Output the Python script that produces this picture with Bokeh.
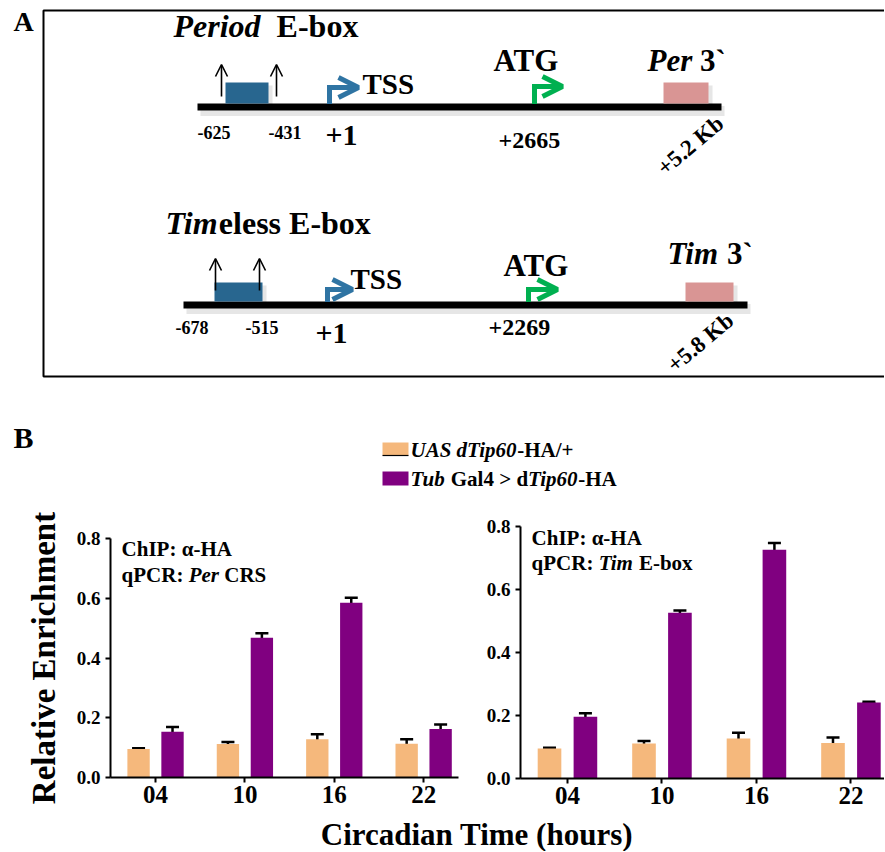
import numpy as np
from bokeh.plotting import figure
from bokeh.layouts import column, row
from bokeh.models import (Range1d, FixedTicker, PrintfTickFormatter, Whisker, TeeHead,
                          Arrow, OpenHead, ColumnDataSource)
from bokeh.core.properties import value
from bokeh.embed import file_html
from bokeh.resources import INLINE

# ------------------------------------------------------------------ data
ct_labels = ["04", "10", "16", "22"]          # circadian time (hours)

# Per CRS (left chart)
per_ctrl = [0.095, 0.112, 0.128, 0.113]
per_ctrl_err = [0.003, 0.007, 0.017, 0.015]
per_tip = [0.153, 0.468, 0.585, 0.162]
per_tip_err = [0.016, 0.015, 0.017, 0.015]

# Tim E-box (right chart)
tim_ctrl = [0.095, 0.111, 0.127, 0.113]
tim_ctrl_err = [0.003, 0.008, 0.018, 0.017]
tim_tip = [0.196, 0.526, 0.726, 0.241]
tim_tip_err = [0.011, 0.007, 0.022, 0.003]

y_ticks = [0.0, 0.2, 0.4, 0.6, 0.8]

# gene diagram labels (panel A)
per_ebox_labels = ["-625", "-431"]
per_tss_label = "+1"
per_atg_label = "+2665"
per_end_label = "+5.2 Kb"
tim_ebox_labels = ["-678", "-515"]
tim_tss_label = "+1"
tim_atg_label = "+2269"
tim_end_label = "+5.8 Kb"

# ------------------------------------------------------------------ style
FONT = "Liberation Serif"
C_CTRL = "#f5b87c"
C_TIP = "#800080"
C_EBOX = "#28668f"
C_TSS = "#2f74a3"
C_ATG = "#00b050"
C_3P = "#d99594"
MID = 0.33   # baseline -> cap-centre offset (em)

BOLD = {' ': 250, '+': 570, '-': 333, '/': 278, ':': 333, '>': 570, '`': 333, '.': 250,
        'α': 550, '(': 333, ')': 333,
        'A': 722, 'B': 667, 'C': 722, 'E': 667, 'G': 778, 'H': 778, 'I': 389, 'K': 778,
        'P': 611, 'R': 722, 'S': 556, 'T': 667, 'U': 722,
        'a': 500, 'b': 556, 'c': 444, 'd': 556, 'e': 444, 'h': 556, 'i': 278, 'l': 278,
        'm': 833, 'n': 556, 'o': 500, 'p': 556, 'q': 556, 'r': 444, 's': 389, 't': 333,
        'u': 556, 'v': 500, 'x': 500}
BITAL = {' ': 250, 'P': 611, 'e': 444, 'r': 389, 'i': 278, 'o': 500, 'd': 500, 'T': 611,
         'm': 778, 'U': 722, 'A': 667, 'S': 556, 'p': 500, 'u': 556, 'b': 500}


def tw(s, it):
    tab = BITAL if it else BOLD
    return sum(tab.get(c, 500) for c in s) / 1000.0


def rich(p, x, y, pieces, size, sx=1.0, sy=-1.0, color="black"):
    """Draw text pieces left to right; y is the baseline; sy = data units per px
    (negative when the data axis points down)."""
    ym = y + MID * size * sy
    cx = x
    for txt, it in pieces:
        lead = len(txt) - len(txt.lstrip(' '))
        cx += tw(' ' * lead, it) * size / sx
        core = txt.strip(' ')
        if core:
            p.text(x=[cx], y=[ym], text=[core], text_font=value(FONT),
                   text_font_size=value(f"{size}px"),
                   text_font_style="bold italic" if it else "bold",
                   text_baseline="middle", text_align="left", text_color=color)
        cx += tw(txt.lstrip(' '), it) * size / sx


def canvas(w, h, x0, y0):
    p = figure(width=w, height=h, x_range=Range1d(x0, x0 + w), y_range=Range1d(y0 + h, y0),
               output_backend="svg", toolbar_location=None, x_axis_location=None,
               y_axis_location=None, min_border=0, outline_line_color=None)
    p.xgrid.visible = False
    p.ygrid.visible = False
    p.background_fill_color = "white"
    p.border_fill_color = "white"
    return p


# ------------------------------------------------------------------ panel A
TOP_H = 492
pa = canvas(884, TOP_H, 0, 0)

# frame of panel A
pa.line(x=[900, 43, 43, 900], y=[10, 10, 376, 376], line_width=2, color="black")
rich(pa, 13, 30, [("A", False)], 28)


def gene_row(p, L, title, ebox_lab, tss_lab, atg_lab, end_lab, end_title):
    ly = L["line_y"]
    # shadows
    p.line(x=[L["x0"] + 3, L["x1"] + 3], y=[ly + 4, ly + 4], line_width=10, color="#9a9a9a", alpha=0.25)
    for (l, r) in (L["ebox"], L["end"]):
        p.quad(left=[l + 3], right=[r + 4], top=[L["box_top"] + 3], bottom=[ly + 2],
               color="#9a9a9a", alpha=0.25, line_color=None)
    # gene line
    p.line(x=[L["x0"], L["x1"]], y=[ly, ly], line_width=7, color="black")
    # E-box and 3' boxes
    p.quad(left=[L["ebox"][0]], right=[L["ebox"][1]], top=[L["box_top"]], bottom=[ly - 3.5],
           color=C_EBOX, line_color=None)
    p.quad(left=[L["end"][0]], right=[L["end"][1]], top=[L["box_top"]], bottom=[ly - 3.5],
           color=C_3P, line_color=None)
    # small up arrows
    for ax in L["up_x"]:
        p.add_layout(Arrow(end=OpenHead(size=12, line_width=1.6, line_color="black"),
                           x_start=ax, y_start=L["up_y"][0], x_end=ax, y_end=L["up_y"][1],
                           line_width=1.6, line_color="black"))
    # bent arrows (TSS, ATG)
    for (vx, ay, tip, col) in ((L["tss_x"], L["tss_y"], L["tss_tip"], C_TSS),
                               (L["atg_x"], L["atg_y"], L["atg_tip"], C_ATG)):
        p.line(x=[vx, vx, tip - 6], y=[ly - 3, ay, ay], line_width=5, color=col,
               line_join="miter")
        p.add_layout(Arrow(end=OpenHead(size=20, line_width=5, line_color=col),
                           x_start=vx, y_start=ay, x_end=tip - 3, y_end=ay,
                           line_width=5, line_color=col))
    # texts
    rich(p, L["title_x"], L["title_y"], title, 32)
    rich(p, L["tss_tx"], L["tss_ty"], [("TSS", False)], 29)
    rich(p, L["atg_tx"], L["atg_ty"], [("ATG", False)], 31)
    rich(p, L["end_tx"], L["end_ty"], end_title, 31)
    for lab, (tx, ty) in zip(ebox_lab, L["ebox_t"]):
        rich(p, tx, ty, [(lab, False)], 18)
    rich(p, L["one_t"][0], L["one_t"][1], [(tss_lab, False)], 30)
    rich(p, L["atgn_t"][0], L["atgn_t"][1], [(atg_lab, False)], 24)
    p.text(x=[L["kb_c"][0]], y=[L["kb_c"][1]], text=[end_lab], angle=40, angle_units="deg",
           text_font=value(FONT), text_font_size=value("23px"), text_font_style="bold",
           text_align="center", text_baseline="middle", text_color="black")


PER_L = dict(line_y=106.5, x0=197, x1=721, ebox=(225, 268), end=(663, 708), box_top=82,
             up_x=(221, 276), up_y=(96, 64),
             tss_x=329, tss_y=87, tss_tip=361, atg_x=534, atg_y=86, atg_tip=565,
             title_x=173, title_y=36, tss_tx=362, tss_ty=93, atg_tx=493, atg_ty=70,
             end_tx=647, end_ty=70, ebox_t=((197, 138), (268, 138)), one_t=(325, 145),
             atgn_t=(498, 148), kb_c=(690, 145))
TIM_L = dict(line_y=304.5, x0=183, x1=747, ebox=(214, 262), end=(685, 733), box_top=282,
             up_x=(215, 259), up_y=(290, 258),
             tss_x=327, tss_y=289, tss_tip=355, atg_x=528, atg_y=289, atg_tip=560,
             title_x=165, title_y=233, tss_tx=350, tss_ty=288, atg_tx=503, atg_ty=275,
             end_tx=667, end_ty=263, ebox_t=((175, 333), (245, 333)), one_t=(315, 343),
             atgn_t=(488, 335), kb_c=(700, 342))

gene_row(pa, PER_L, [("Period", True), ("  E-box", False)], per_ebox_labels, per_tss_label,
         per_atg_label, per_end_label, [("Per", True), (" 3`", False)])
gene_row(pa, TIM_L, [("Tim", True), ("eless E-box", False)], tim_ebox_labels, tim_tss_label,
         tim_atg_label, tim_end_label, [("Tim", True), (" 3`", False)])

# panel B label and legend
rich(pa, 13, 447, [("B", False)], 30)
pa.quad(left=[382], right=[408], top=[442], bottom=[455], color=C_CTRL, line_color=None)
pa.line(x=[382, 408], y=[455, 455], line_width=1.2, color="black")
pa.quad(left=[382], right=[408], top=[471], bottom=[485], color=C_TIP, line_color=None)
rich(pa, 410, 456, [("UAS dTip60", True), ("-HA/+", False)], 21)
rich(pa, 410, 485, [("Tub", True), (" Gal4 > d", False), ("Tip60", True), ("-HA", False)], 21)

# ------------------------------------------------------------------ panel B charts
xs = np.arange(len(ct_labels))
OFF = 0.19
BW = 0.25
CH_H = 322


def bar_chart(ctrl, ctrl_err, tip, tip_err, width, border_l, border_r, border_t, border_b,
              xr, ylabel, note_lines):
    p = figure(width=width, height=CH_H, x_range=Range1d(*xr), y_range=Range1d(0, 0.8),
               output_backend="svg", toolbar_location=None,
               min_border_left=border_l, min_border_right=border_r,
               min_border_top=border_t, min_border_bottom=border_b,
               outline_line_color=None)
    p.xgrid.visible = False
    p.ygrid.visible = False
    ctrl = np.array(ctrl)
    tip = np.array(tip)
    src = ColumnDataSource(dict(
        xc=xs - OFF, xt=xs + OFF, ctrl=ctrl, tip=tip,
        c_lo=ctrl - np.array(ctrl_err), c_hi=ctrl + np.array(ctrl_err),
        t_lo=tip - np.array(tip_err), t_hi=tip + np.array(tip_err)))
    p.vbar(x="xc", top="ctrl", width=BW, source=src, color=C_CTRL, line_color=None)
    p.vbar(x="xt", top="tip", width=BW, source=src, color=C_TIP, line_color=None)
    for base, lo, hi in (("xc", "c_lo", "c_hi"), ("xt", "t_lo", "t_hi")):
        p.add_layout(Whisker(source=src, base=base, lower=lo, upper=hi, line_width=2.5,
                             line_color="black",
                             upper_head=TeeHead(size=13, line_width=2.5, line_color="black"),
                             lower_head=TeeHead(size=13, line_width=2.5, line_color="black")))
    # axes
    p.xaxis.ticker = FixedTicker(ticks=list(xs))
    p.xaxis.major_label_overrides = {int(i): lab for i, lab in zip(xs, ct_labels)}
    p.yaxis.ticker = FixedTicker(ticks=y_ticks)
    p.yaxis.formatter = PrintfTickFormatter(format="%.1f")
    for ax in (p.xaxis, p.yaxis):
        ax.axis_line_width = 2
        ax.major_tick_line_width = 2
        ax.major_tick_out = 5
        ax.major_tick_in = 0
        ax.minor_tick_line_color = None
        ax.major_label_text_font = FONT
        ax.major_label_text_font_style = "bold"
        ax.major_label_text_color = "black"
        ax.axis_line_color = "black"
        ax.major_tick_line_color = "black"
    p.xaxis.major_label_text_font_size = "25px"
    p.xaxis.major_label_standoff = 3
    p.yaxis.major_label_text_font_size = "19px"
    p.yaxis.major_label_standoff = 5
    if ylabel:
        p.yaxis.axis_label = ylabel
        p.yaxis.axis_label_text_font = FONT
        p.yaxis.axis_label_text_font_size = "33px"
        p.yaxis.axis_label_text_font_style = "bold"
        p.yaxis.axis_label_text_color = "black"
        p.yaxis.axis_label_standoff = 12
    # annotation text inside chart
    frame_w = width - border_l - border_r
    frame_h = CH_H - border_t - border_b
    sx = frame_w / (xr[1] - xr[0])
    sy = 0.8 / frame_h
    for (yy, pieces) in note_lines:
        rich(p, -0.38, yy, pieces, 21, sx=sx, sy=sy)
    return p


p_left = bar_chart(per_ctrl, per_ctrl_err, per_tip, per_tip_err, 470, 110, 12, 46, 37,
                   (-0.504, 3.39), "Relative Enrichment",
                   [(0.743, [("ChIP: α-HA", False)]),
                    (0.656, [("qPCR: ", False), ("Per", True), (" CRS", False)])])
p_right = bar_chart(tim_ctrl, tim_ctrl_err, tim_tip, tim_tip_err, 414, 50, 0, 34, 36,
                    (-0.497, 3.355), None,
                    [(0.743, [("ChIP: α-HA", False)]),
                     (0.663, [("qPCR: ", False), ("Tim", True), (" E-box", False)])])

# ------------------------------------------------------------------ common x label
XL_H = 37
px = canvas(884, XL_H, 0, TOP_H + CH_H)
rich(px, 477 - tw("Circadian Time (hours)", False) * 31 / 2, 844,
     [("Circadian Time (hours)", False)], 31)

layout = column(pa, row(column(p_left), column(p_right), spacing=0), px, spacing=0)
open("out.html", "w").write(file_html(layout, INLINE))
